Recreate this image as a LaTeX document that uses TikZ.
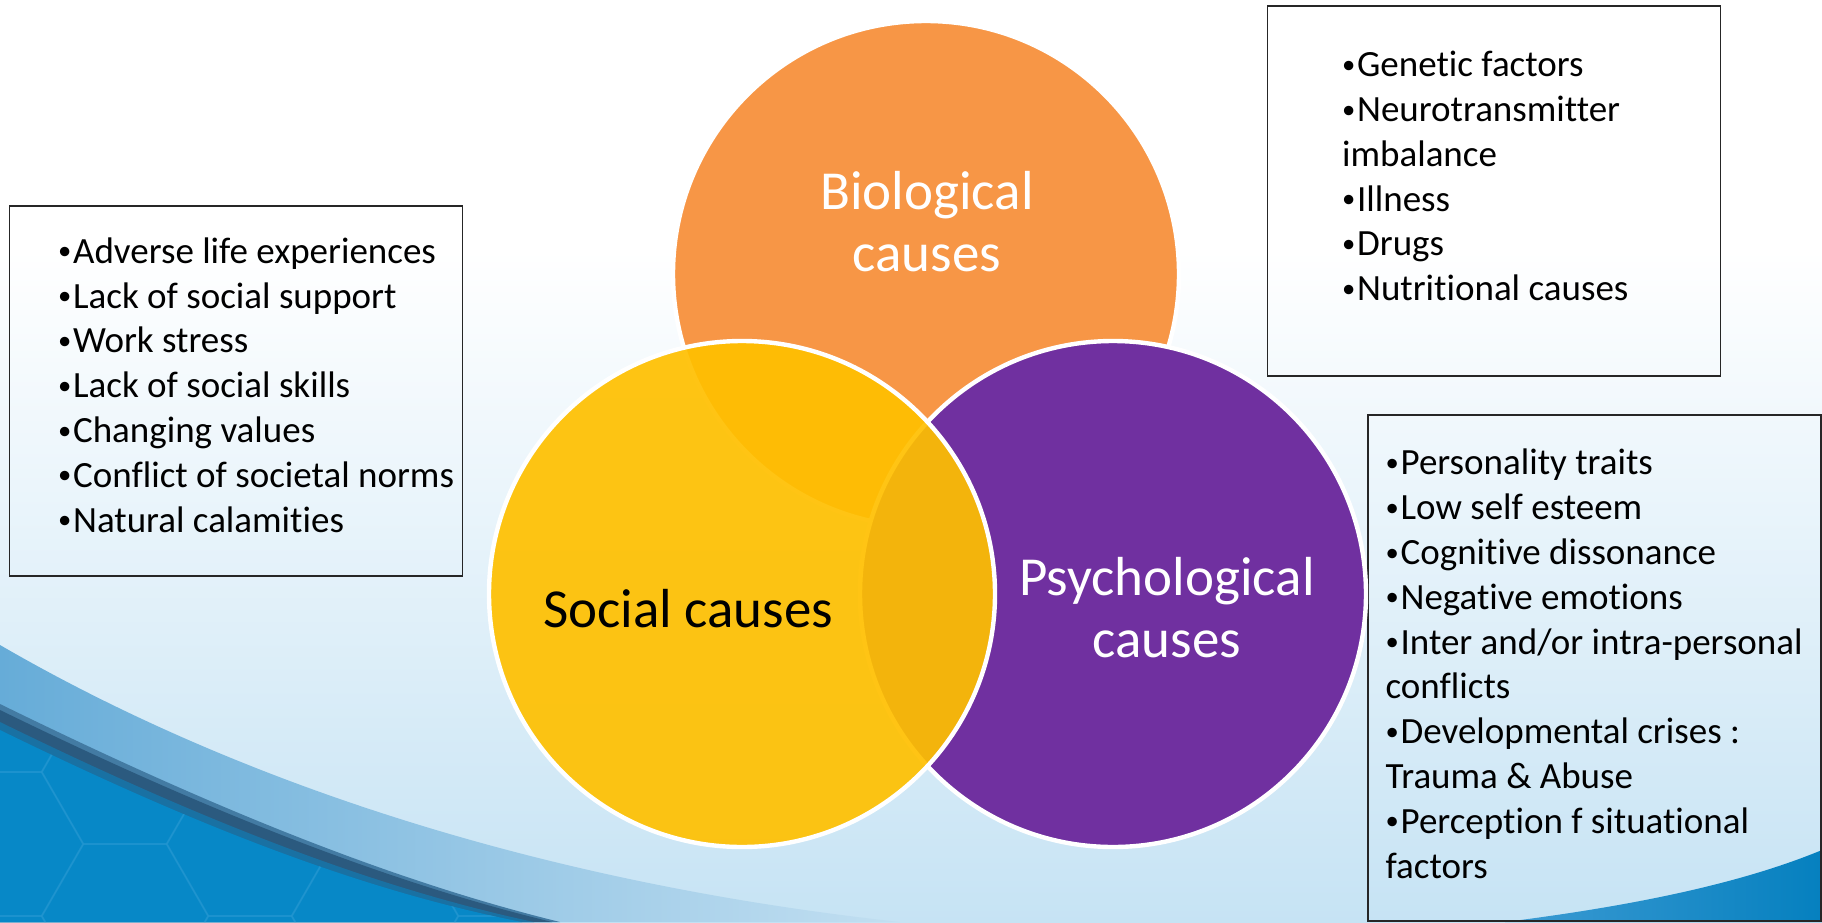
\documentclass[tikz,border=0pt]{standalone}
\usepackage{graphicx}
\usepackage{fontspec}
\setmainfont{Carlito}[Ligatures=NoCommon]
\usetikzlibrary{positioning,calc}

\definecolor{bioorange}{HTML}{F79646}
\definecolor{psypurple}{HTML}{7030A0}
\definecolor{socyellow}{HTML}{FFC000}
\definecolor{skyblue}{HTML}{C6E3F4}
\definecolor{bandblue}{HTML}{66ACD8}
\definecolor{bandpale}{HTML}{C2DFF1}
\definecolor{deepblue}{HTML}{0788C7}
\definecolor{inkblue}{HTML}{2B5A7F}
\definecolor{hexblue}{HTML}{2A9AD3}
\definecolor{tipblue}{HTML}{3D9BD3}
\definecolor{tipdeep}{HTML}{0580BF}

% small list bullet
\newcommand\dotmark{\makebox[7.5pt][l]{\raisebox{0.09em}{\scalebox{0.72}{•}}}}

\begin{document}
\begin{tikzpicture}
  [
      x=0.5pt, y=-0.5pt,
      cause/.style={circle, draw=white, line width=2.2pt, minimum size=253pt, inner sep=0pt, fill=#1},
      cause label/.style={align=center, inner sep=0pt, font=\fontsize{27.5}{31}\selectfont},
      list box/.style={draw=black!85, line width=0.8pt, minimum width=226.5pt, minimum height=185pt, inner sep=0pt},
      list/.style={align=left, inner sep=0pt, font=\fontsize{18.5}{22.4}\selectfont}
    ]
    \useasboundingbox (0,0) rectangle (1822,922);
    % backdrop
    \fill[white] (0,0) rectangle (1822,922);
    \shade[top color=white, bottom color=skyblue] (0,250) rectangle (1822,922);

    % blue swoosh, bottom left
    \shade[left color=bandblue, middle color=bandblue!85!bandpale, right color=bandpale]
      (0,645) .. controls (250,790) and (560,885) .. (900,922) -- (0,922) -- cycle;
    \fill[inkblue!60!bandblue] (0,704) .. controls (180,792) and (372,876) .. (560,922) -- (0,922) -- cycle;
    \fill[inkblue] (0,710) .. controls (180,798) and (370,878) .. (552,922) -- (0,922) -- cycle;
    \fill[inkblue!50!deepblue] (0,722) .. controls (176,808) and (356,884) .. (534,922) -- (0,922) -- cycle;
    \fill[deepblue] (0,730) .. controls (174,815) and (348,888) .. (522,922) -- (0,922) -- cycle;
    \begin{scope}
      \clip (0,730) .. controls (174,815) and (348,888) .. (522,922) -- (0,922) -- cycle;
      \foreach \i in {0,...,5}
        \foreach \j in {0,...,2} {
          \pgfmathsetmacro\cx{125*\i}
          \pgfmathsetmacro\cy{700+144*\j+72*mod(\i,2)}
          \draw[hexblue, line width=0.8pt, opacity=0.45, shift={(\cx,\cy)}]
            (0:83) \foreach \a in {60,120,...,300} { -- (\a:83) } -- cycle;
        }
    \end{scope}

    % blue swoosh, bottom right
    \shade[left color=tipblue, right color=tipdeep]
      (1505,922) .. controls (1640,905) and (1745,882) .. (1822,850) -- (1822,922) -- cycle;

    % lists of causes
    \node[list box] (socbox) at (236,391) {};
    \node[list, below right=16pt and 24.5pt of socbox.north west] (soclist)
      {\dotmark Adverse life experiences\\\dotmark Lack of social support\\\dotmark Work stress\\%
       \dotmark Lack of social skills\\\dotmark Changing values\\\dotmark Conflict of societal norms\\%
       \dotmark Natural calamities};

    \node[list box] (biobox) at (1494,191) {};
    \node[list, below right=22.8pt and 37.5pt of biobox.north west] (biolist)
      {\dotmark Genetic factors\\\dotmark Neurotransmitter\\imbalance\\\dotmark Illness\\%
       \dotmark Drugs\\\dotmark Nutritional causes};

    \node[list box, minimum height=253pt] (psybox) at (1594.5,668) {};
    \node[list, below right=17.3pt and 9pt of psybox.north west] (psylist)
      {\dotmark Personality traits\\\dotmark Low self esteem\\\dotmark Cognitive dissonance\\%
       \dotmark Negative emotions\\\dotmark Inter and/or intra-personal\\conflicts\\%
       \dotmark Developmental crises :\\Trauma \& Abuse\\\dotmark Perception f situational\\factors};

    % the three circles
    \node[cause=bioorange] (bio) at (926,274) {};
    \node[cause=psypurple] (psy) at (1113,594) {};
    \node[cause=socyellow, fill opacity=0.92] (soc) at (742,594) {};

    \node[cause label, text=white] (biolbl) at (927,222) {Biological\\causes};
    \node[cause label, text=black] (soclbl) at (688,609) {Social causes};
    \node[cause label, text=white] (psylbl) at (1167,608) {Psychological\\causes};
  \end{tikzpicture}
\end{document}
